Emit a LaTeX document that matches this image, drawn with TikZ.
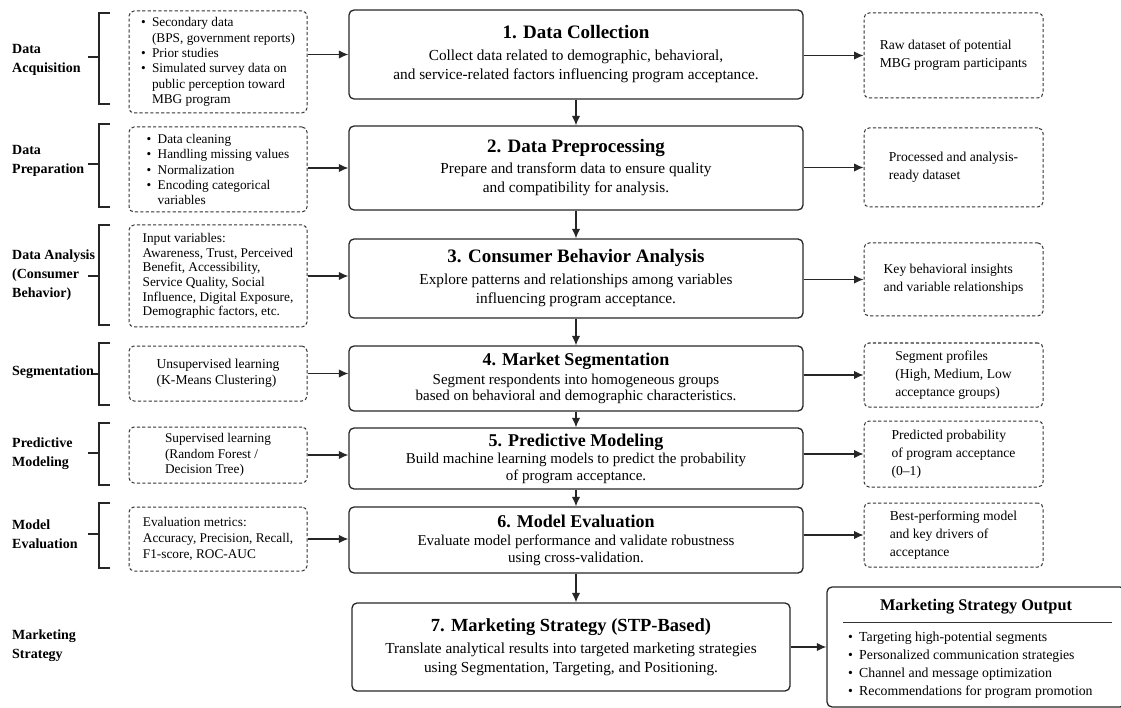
\documentclass[tikz,border=0pt]{standalone}
\usepackage{fontspec}
\setmainfont{Liberation Serif}
\usetikzlibrary{arrows.meta}
\newcommand\mybul{\makebox[11pt][l]{\textbullet}}
\newcommand\myind{\hspace*{11pt}}
\begin{document}
\begin{tikzpicture}[x=1pt,y=-1pt,
  mainbox/.style={draw=black!85, line width=1.3pt, rounded corners=5pt, align=center, inner sep=0pt, minimum width=454pt},
  dbox/.style={draw=black!80, line width=1pt, dash pattern=on 3.2pt off 2.2pt, rounded corners=5pt, align=left, inner sep=0pt, minimum width=178pt, font=\fontsize{13.3}{15.4}\selectfont},
  rbox/.style={dbox, minimum width=179pt, font=\fontsize{13.6}{18}\selectfont},
  lab/.style={anchor=west, align=left, inner sep=0pt, font=\fontsize{14}{19}\selectfont\bfseries},
  arr/.style={draw=black!85, line width=1.3pt, -{Latex[length=9.5pt,width=8.5pt]}},
  brk/.style={draw=black!85, line width=1.3pt},
  bigt/.style={font=\fontsize{15.3}{19}\selectfont},
  smallt/.style={font=\fontsize{15}{16.5}\selectfont}
]
\clip (0,0) rectangle (1121,708);

% ---------- left labels ----------
\node[lab] (lA) at (12,59.5) {Data\\Acquisition};
\node[lab] (lB) at (12,161) {Data\\Preparation};
\node[lab] (lC) at (12,275) {Data Analysis\\(Consumer\\Behavior)};
\node[lab] (lD) at (12,372) {Segmentation};
\node[lab] (lE) at (12,453.5) {Predictive\\Modeling};
\node[lab] (lF) at (12,534.5) {Model\\Evaluation};
\node[lab] (lG) at (12,646) {Marketing\\Strategy};

% ---------- brackets ----------
\draw[brk] (110,13) -- (99,13) -- (99,104) -- (110,104);  \draw[brk] (88,57) -- (99,57);
\draw[brk] (110,124) -- (99,124) -- (99,207) -- (110,207); \draw[brk] (88,164) -- (99,164);
\draw[brk] (110,225) -- (99,225) -- (99,325) -- (110,325); \draw[brk] (88,276) -- (99,276);
\draw[brk] (110,343) -- (99,343) -- (99,405) -- (110,405); \draw[brk] (93,374) -- (99,374);
\draw[brk] (110,423) -- (99,423) -- (99,485) -- (110,485); \draw[brk] (88,453) -- (99,453);
\draw[brk] (110,503) -- (99,503) -- (99,568) -- (110,568); \draw[brk] (88,534) -- (99,534);

% ---------- left dashed boxes ----------
\node[dbox, minimum height=102pt] (dA) at (218,62) {\mybul Secondary data\\ \myind(BPS, government reports)\\ \mybul Prior studies\\ \mybul Simulated survey data on\\ \myind public perception toward\\ \myind MBG program};
\node[dbox, minimum height=85pt] (dB) at (218,169.5) {\mybul Data cleaning\\ \mybul Handling missing values\\ \mybul Normalization\\ \mybul Encoding categorical\\ \myind variables};
\node[dbox, minimum height=102pt, font=\fontsize{13.3}{14.6}\selectfont] (dC) at (218,276) {Input variables:\\ Awareness, Trust, Perceived\\ Benefit, Accessibility,\\ Service Quality, Social\\ Influence, Digital Exposure,\\ Demographic factors, etc.};
\node[dbox, minimum height=55pt, font=\fontsize{13.6}{16}\selectfont] (dD) at (218,373.5) {Unsupervised learning\\ (K-Means Clustering)};
\node[dbox, minimum height=56pt] (dE) at (218,455) {Supervised learning\\ (Random Forest /\\ Decision Tree)};
\node[dbox, minimum height=64pt, font=\fontsize{13.3}{16}\selectfont] (dF) at (218,539) {Evaluation metrics:\\ Accuracy, Precision, Recall,\\ F1-score, ROC-AUC};

% ---------- main boxes ----------
\node[mainbox, bigt, minimum height=89pt] (m1) at (576,54.5) {{\fontsize{19}{22}\selectfont\bfseries 1. Data Collection}\\[3pt] Collect data related to demographic, behavioral,\\ and service-related factors influencing program acceptance.};
\node[mainbox, bigt, minimum height=84pt] (m2) at (576,168) {{\fontsize{19}{22}\selectfont\bfseries 2. Data Preprocessing}\\[2pt] Prepare and transform data to ensure quality\\ and compatibility for analysis.};
\node[mainbox, bigt, minimum height=79pt] (m3) at (576,278.5) {{\fontsize{19}{22}\selectfont\bfseries 3. Consumer Behavior Analysis}\\[3pt] Explore patterns and relationships among variables\\ influencing program acceptance.};
\node[mainbox, smallt, minimum height=65pt] (m4) at (576,378.5) {{\fontsize{18}{20}\selectfont\bfseries 4. Market Segmentation}\\[2pt] Segment respondents into homogeneous groups\\ based on behavioral and demographic characteristics.};
\node[mainbox, smallt, minimum height=61pt] (m5) at (576,458.5) {{\fontsize{18}{20}\selectfont\bfseries 5. Predictive Modeling}\\[1pt] Build machine learning models to predict the probability\\ of program acceptance.};
\node[mainbox, smallt, minimum height=66pt] (m6) at (576,540) {{\fontsize{18}{20}\selectfont\bfseries 6. Model Evaluation}\\[2pt] Evaluate model performance and validate robustness\\ using cross-validation.};
\node[mainbox, bigt, minimum width=438pt, minimum height=88pt] (m7) at (571,647) {{\fontsize{18.5}{22}\selectfont\bfseries 7. Marketing Strategy (STP-Based)}\\[3pt] Translate analytical results into targeted marketing strategies\\ using Segmentation, Targeting, and Positioning.};

% ---------- right dashed boxes ----------
\node[rbox, minimum height=85pt] (r1) at (953.5,55.5) {Raw dataset of potential\\ MBG program participants};
\node[rbox, minimum height=79pt] (r2) at (953.5,167.5) {Processed and analysis-\\ ready dataset};
\node[rbox, minimum height=73pt] (r3) at (953.5,279.5) {Key behavioral insights\\ and variable relationships};
\node[rbox, minimum height=64pt] (r4) at (953.5,375) {Segment profiles\\ (High, Medium, Low\\ acceptance groups)};
\node[rbox, minimum height=66pt] (r5) at (953.5,454) {Predicted probability\\ of program acceptance\\ (0--1)};
\node[rbox, minimum height=64pt] (r6) at (953.5,535) {Best-performing model\\ and key drivers of\\ acceptance};

% ---------- output box ----------
\node[draw=black!85, line width=1.3pt, rounded corners=5pt, minimum width=298pt, minimum height=120pt, inner sep=0pt] (out) at (976,647) {};
\node[font=\fontsize{16.3}{19}\selectfont\bfseries, inner sep=0pt] (ot) at (976,607) {Marketing Strategy Output};
\coordinate (ruleA) at (843,622);
\coordinate (ruleB) at (1112,622);
\draw[line width=0.8pt, draw=black!80] (ruleA) -- (ruleB);
\node[anchor=west, align=left, inner sep=0pt, font=\fontsize{13.8}{18}\selectfont] (ob) at (848,665) {\mybul Targeting high-potential segments\\ \mybul Personalized communication strategies\\ \mybul Channel and message optimization\\ \mybul Recommendations for program promotion};

% ---------- arrows: left to main ----------
\draw[arr] (dA.east |- m1.west) -- (m1.west);
\draw[arr] (dB.east |- m2.west) -- (m2.west);
\draw[arr] (dC.east) -- (dC.east -| m3.west);
\draw[arr] (dD.east) -- (dD.east -| m4.west);
\draw[arr] (dE.east) -- (dE.east -| m5.west);
\draw[arr] (dF.east) -- (dF.east -| m6.west);

% ---------- arrows: main down ----------
\draw[arr] (m1.south) -- (m2.north);
\draw[arr] (m2.south) -- (m3.north);
\draw[arr] (m3.south) -- (m4.north);
\draw[arr] (m4.south) -- (m5.north);
\draw[arr] (m5.south) -- (m6.north);
\draw[arr] (m6.south) -- (m6.south |- m7.north);

% ---------- arrows: main to right ----------
\draw[arr] (m1.east |- r1.west) -- (r1.west);
\draw[arr] (m2.east |- r2.west) -- (r2.west);
\draw[arr] (m3.east |- r3.west) -- (r3.west);
\draw[arr] (m4.east |- r4.west) -- (r4.west);
\draw[arr] (m5.east |- r5.west) -- (r5.west);
\draw[arr] (m6.east |- r6.west) -- (r6.west);
\draw[arr] (m7.east) -- (m7.east -| out.west);
\end{tikzpicture}
\end{document}
